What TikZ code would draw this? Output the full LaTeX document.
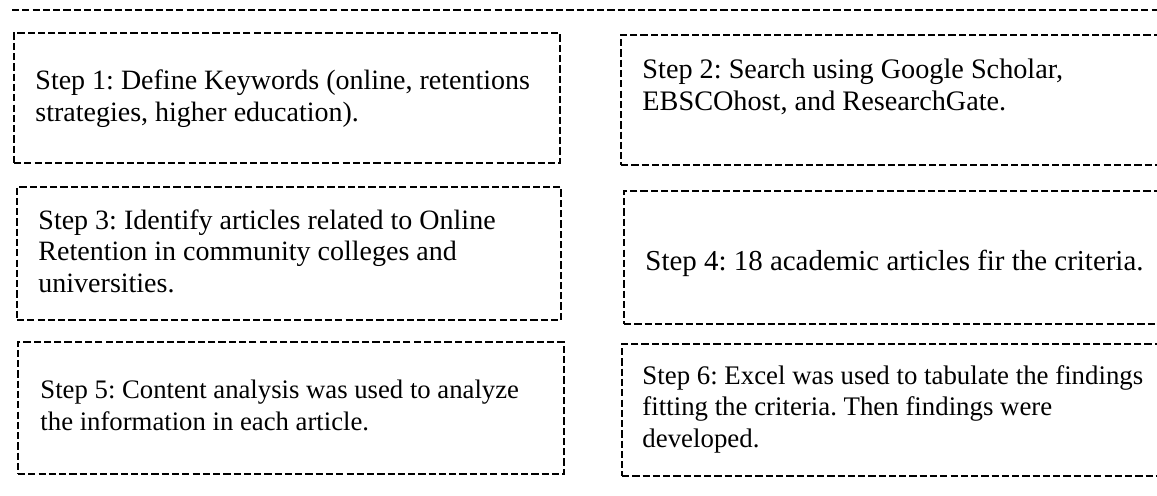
\documentclass[tikz,border=0pt]{standalone}
\usepackage{fontspec}
\setmainfont{Liberation Serif}
\usetikzlibrary{fit}
\frenchspacing
\tikzset{
  stepbox/.style={draw=black, line width=0.85pt, dash pattern=on 3.1pt off 1.3pt, inner sep=0pt, rectangle},
  steptext/.style={inner sep=0pt, anchor=base west, align=left, font=\fontsize{#1}{13.3}\selectfont\frenchspacing, text=black},
  steptext/.default=12,
  rule/.style={draw=black, line width=0.85pt, dash pattern=on 3.1pt off 1.3pt}
}
\begin{document}
\begin{tikzpicture}[x=0.4286pt, y=-0.4286pt]
\useasboundingbox (0,0) rectangle (1157,495);
\clip (0,0) rectangle (1157,495);
\coordinate (ruleL) at (12,10);
\coordinate (ruleR) at (1170,10);
\draw[rule] (ruleL) -- (ruleR);
\node[stepbox, fit={(14,33) (560,163)}] (b1) {};
\node[stepbox, fit={(621,35) (1175,165)}] (b2) {};
\node[stepbox, fit={(17,187) (561,320)}] (b3) {};
\node[stepbox, fit={(624,191) (1175,324)}] (b4) {};
\node[stepbox, fit={(18,342) (564,474)}] (b5) {};
\node[stepbox, fit={(622,344) (1175,476)}] (b6) {};
% anchor base west of a multi-line node = baseline of its last line
\node[steptext] (t1) at (35,121) {Step 1: Define Keywords (online, retentions\\strategies, higher education).};
\node[steptext=12.1] (t2) at (642,110) {Step 2: Search using Google Scholar,\\EBSCOhost, and ResearchGate.};
\node[steptext] (t3) at (38,292) {Step 3: Identify articles related to Online\\Retention in community colleges and\\universities.};
\node[steptext=12.4] (t4) at (645,270) {Step 4: 18 academic articles fir the criteria.};
\node[steptext=11.45] (t5) at (40,430) {Step 5: Content analysis was used to analyze\\the information in each article.};
\node[steptext=11.5] (t6) at (642,447) {Step 6: Excel was used to tabulate the findings\\fitting the criteria. Then findings were\\developed.};
\end{tikzpicture}
\end{document}
